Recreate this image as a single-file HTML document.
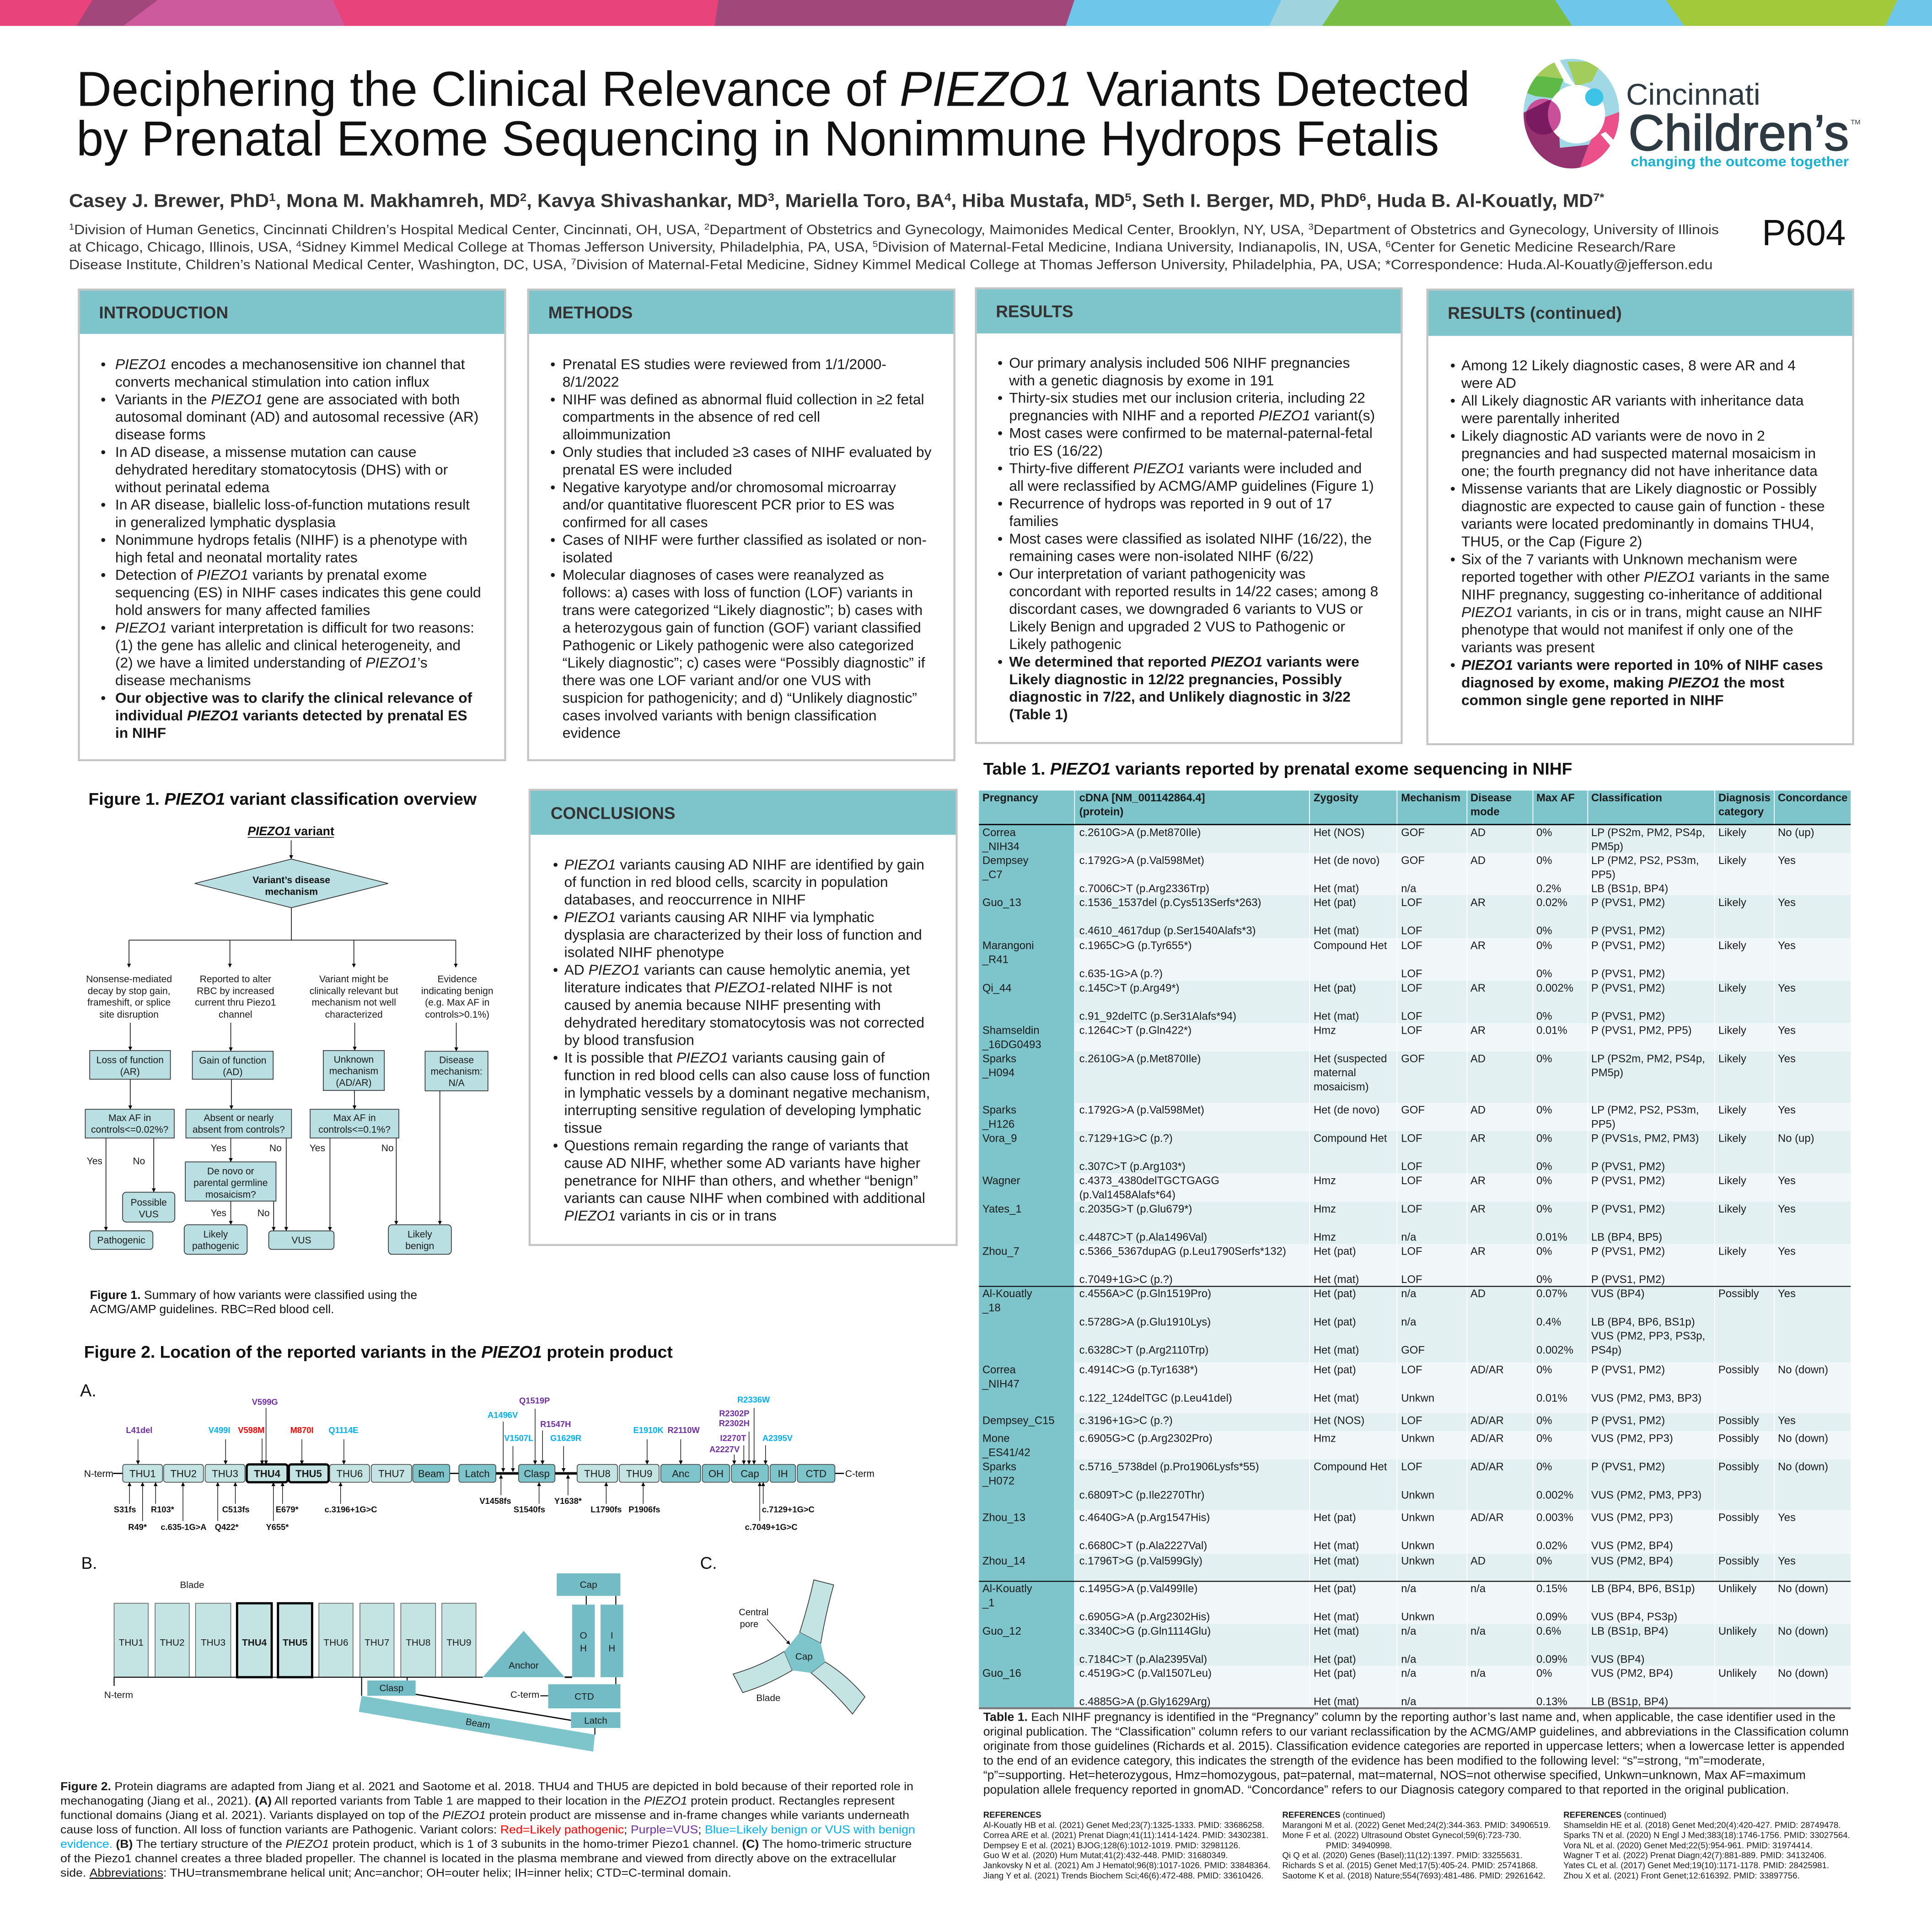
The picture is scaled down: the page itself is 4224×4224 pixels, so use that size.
<!DOCTYPE html>
<html><head><meta charset="utf-8">
<style>
html,body{margin:0;padding:0;background:#fff;}
svg{display:block}
text{font-family:"Liberation Sans",Arial,sans-serif;}
.t{font-size:11.8px;fill:#1a1a1a}
.h{font-size:13.7px;font-weight:bold;fill:#333}
.i{font-style:italic}
.b{font-weight:bold}
.tb{font-size:8.86px;fill:#1a1a1a}
.th{font-size:8.86px;fill:#1a1a1a;font-weight:bold}
.f1{font-size:7.8px;fill:#1a1a1a;text-anchor:middle}
.f1l{font-size:7.8px;fill:#1a1a1a}
.lab{font-size:6.8px;font-weight:bold;text-anchor:middle}
.dom{font-size:8.2px;fill:#1a1a1a;text-anchor:middle}
.bl{font-size:7.7px;fill:#1a1a1a;text-anchor:middle}
.cap{font-size:9.4px;fill:#1a1a1a}
.tcap{font-size:9.6px;fill:#1a1a1a}
.ref{font-size:6.9px;fill:#1a1a1a}
.R{fill:#ff0000}.P{fill:#7030a0}.B{fill:#00b0f0}
</style></head><body>
<svg width="4224" height="4224" viewBox="0 0 1568 1568">
<defs>
<marker id="ah" viewBox="0 0 6 6" refX="5.5" refY="3" markerWidth="3.2" markerHeight="3.2" markerUnits="userSpaceOnUse" orient="auto"><path d="M0,0 L6,3 L0,6 z" fill="#000"/></marker>
<clipPath id="ring"><path clip-rule="evenodd" d="M1236.5,92.2 a38.8,44.5 0 1,0 77.6,0 a38.8,44.5 0 1,0 -77.6,0 Z M1256.3,92.7 a23.2,23.7 0 1,0 46.4,0 a23.2,23.7 0 1,0 -46.4,0 Z"/></clipPath>
<clipPath id="ell"><ellipse cx="1252.5" cy="94.7" rx="14.2" ry="14.6"/></clipPath>
</defs>
<rect x="0" y="0" width="1568" height="1568" fill="#fff"/>

<!-- top band -->
<polygon points="0,0 80,0 66,21 0,21" fill="#e9437b"/>
<polygon points="75,0 130,0 104,21 62,21" fill="#a2477b"/>
<polygon points="128,0 272,0 282,21 100,21" fill="#cd5a9c"/>
<polygon points="270,0 584,0 581,21 280,21" fill="#e9437b"/>
<polygon points="583,0 873,0 866,21 580,21" fill="#a0487a"/>
<polygon points="872,0 1041,0 1031,21 865,21" fill="#6ec6ea"/>
<polygon points="1040,0 1088,0 1074,21 1030,21" fill="#9fd4df"/>
<polygon points="1087,0 1263,0 1277,21 1073,21" fill="#79bd43"/>
<polygon points="1262,0 1353,0 1368,21 1276,21" fill="#6ec6ea"/>
<polygon points="1352,0 1541,0 1531,21 1367,21" fill="#a2c93a"/>
<polygon points="1540,0 1568,0 1568,21 1530,21" fill="#6ec6ea"/>

<!-- title -->
<text x="62" y="86" font-size="40" textLength="1131" lengthAdjust="spacingAndGlyphs" fill="#111">Deciphering the Clinical Relevance of <tspan class="i">PIEZO1</tspan> Variants Detected</text>
<text x="62" y="126.2" font-size="40" textLength="1106" lengthAdjust="spacingAndGlyphs" fill="#111">by Prenatal Exome Sequencing in Nonimmune Hydrops Fetalis</text>

<!-- logo -->
<g clip-path="url(#ring)">
<rect x="1230" y="40" width="90" height="105" fill="#a0d9e5"/>
<polygon points="1230,40 1262,40 1269,64 1252,62 1230,62" fill="#a3cd5b"/>
<polygon points="1230,62 1252,62 1269,64 1263,80 1246,78 1230,72" fill="#5fb946"/>
<polygon points="1272,50 1300,50 1292,66 1279,70" fill="#a3cd5b"/>
<polygon points="1228,93 1236.4,91.5 1256.2,81.7 1264,80 1266,120 1289.4,117.5 1280,142 1228,142" fill="#93326f"/>
<polygon points="1289.4,117.5 1280,142 1322,142 1322,88 1300,96" fill="#ec508a"/>
</g>
<ellipse cx="1252.5" cy="94.7" rx="14.2" ry="14.6" fill="#c94f9b"/>
<g clip-path="url(#ring)"><g clip-path="url(#ell)"><polygon points="1228,93 1236.4,91.5 1256.2,81.7 1264,80 1266,120 1289.4,117.5 1280,142 1228,142" fill="#7a1a60"/></g></g>
<ellipse cx="1293.9" cy="78.9" rx="7.4" ry="7.2" fill="#3cc3e6"/>
<polygon points="1258,44 1263,44 1276,66 1280,71 1270,67" fill="#fff"/>
<polygon points="1299,109 1303,107 1316,120 1311,123" fill="#fff"/>
<text x="1319.7" y="85.1" font-size="24.5" fill="#2e3a42" textLength="109" lengthAdjust="spacingAndGlyphs">Cincinnati</text>
<text x="1321.6" y="121.9" font-size="41" fill="#2e3a42" stroke="#2e3a42" stroke-width="0.7" textLength="179" lengthAdjust="spacingAndGlyphs">Children’s</text>
<text x="1502" y="101" font-size="5.5" fill="#2e3a42">TM</text>
<text x="1323.5" y="135" font-size="11.5" font-weight="bold" fill="#1ab0d0" textLength="177" lengthAdjust="spacingAndGlyphs">changing the outcome together</text>

<!-- authors -->
<text x="56" y="168" font-size="15" font-weight="bold" fill="#333" textLength="1246" lengthAdjust="spacingAndGlyphs">Casey J. Brewer, PhD<tspan font-size="9" baseline-shift="super">1</tspan>, Mona M. Makhamreh, MD<tspan font-size="9" baseline-shift="super">2</tspan>, Kavya Shivashankar, MD<tspan font-size="9" baseline-shift="super">3</tspan>, Mariella Toro, BA<tspan font-size="9" baseline-shift="super">4</tspan>, Hiba Mustafa, MD<tspan font-size="9" baseline-shift="super">5</tspan>, Seth I. Berger, MD, PhD<tspan font-size="9" baseline-shift="super">6</tspan>, Huda B. Al-Kouatly, MD<tspan font-size="9" baseline-shift="super">7*</tspan></text>
<text x="56" y="190" font-size="11" fill="#333" textLength="1339" lengthAdjust="spacingAndGlyphs"><tspan font-size="7" baseline-shift="super">1</tspan>Division of Human Genetics, Cincinnati Children’s Hospital Medical Center, Cincinnati, OH, USA, <tspan font-size="7" baseline-shift="super">2</tspan>Department of Obstetrics and Gynecology, Maimonides Medical Center, Brooklyn, NY, USA, <tspan font-size="7" baseline-shift="super">3</tspan>Department of Obstetrics and Gynecology, University of Illinois</text>
<text x="56" y="204.2" font-size="11" fill="#333" textLength="1304" lengthAdjust="spacingAndGlyphs">at Chicago, Chicago, Illinois, USA, <tspan font-size="7" baseline-shift="super">4</tspan>Sidney Kimmel Medical College at Thomas Jefferson University, Philadelphia, PA, USA, <tspan font-size="7" baseline-shift="super">5</tspan>Division of Maternal-Fetal Medicine, Indiana University, Indianapolis, IN, USA, <tspan font-size="7" baseline-shift="super">6</tspan>Center for Genetic Medicine Research/Rare</text>
<text x="56" y="218.4" font-size="11" fill="#333" textLength="1334" lengthAdjust="spacingAndGlyphs">Disease Institute, Children’s National Medical Center, Washington, DC, USA, <tspan font-size="7" baseline-shift="super">7</tspan>Division of Maternal-Fetal Medicine, Sidney Kimmel Medical College at Thomas Jefferson University, Philadelphia, PA, USA; *Correspondence: Huda.Al-Kouatly@jefferson.edu</text>
<text x="1430" y="199" font-size="29.7" fill="#111" textLength="68" lengthAdjust="spacingAndGlyphs">P604</text>

<!-- INTRODUCTION -->
<rect x="64" y="235" width="346" height="382" fill="#fff" stroke="#c4c4c4" stroke-width="1.6"/>
<rect x="64.8" y="235.8" width="344.4" height="35.2" fill="#7ec4cb"/>
<text class="h" x="80.3" y="258.4">INTRODUCTION</text>
<g class="t">
<text x="81.7" y="299.6">•</text><text x="81.7" y="328.1">•</text><text x="81.7" y="370.85">•</text><text x="81.7" y="413.6">•</text><text x="81.7" y="442.1">•</text><text x="81.7" y="470.6">•</text><text x="81.7" y="513.35">•</text><text x="81.7" y="570.35">•</text>
<text x="93.5" y="299.6"><tspan class="i">PIEZO1</tspan> encodes a mechanosensitive ion channel that</text>
<text x="93.5" y="313.85">converts mechanical stimulation into cation influx</text>
<text x="93.5" y="328.1">Variants in the <tspan class="i">PIEZO1</tspan> gene are associated with both</text>
<text x="93.5" y="342.35">autosomal dominant (AD) and autosomal recessive (AR)</text>
<text x="93.5" y="356.6">disease forms</text>
<text x="93.5" y="370.85">In AD disease, a missense mutation can cause</text>
<text x="93.5" y="385.1">dehydrated hereditary stomatocytosis (DHS) with or</text>
<text x="93.5" y="399.35">without perinatal edema</text>
<text x="93.5" y="413.6">In AR disease, biallelic loss-of-function mutations result</text>
<text x="93.5" y="427.85">in generalized lymphatic dysplasia</text>
<text x="93.5" y="442.1">Nonimmune hydrops fetalis (NIHF) is a phenotype with</text>
<text x="93.5" y="456.35">high fetal and neonatal mortality rates</text>
<text x="93.5" y="470.6">Detection of <tspan class="i">PIEZO1</tspan> variants by prenatal exome</text>
<text x="93.5" y="484.85">sequencing (ES) in NIHF cases indicates this gene could</text>
<text x="93.5" y="499.1">hold answers for many affected families</text>
<text x="93.5" y="513.35"><tspan class="i">PIEZO1</tspan> variant interpretation is difficult for two reasons:</text>
<text x="93.5" y="527.6">(1) the gene has allelic and clinical heterogeneity, and</text>
<text x="93.5" y="541.85">(2) we have a limited understanding of <tspan class="i">PIEZO1</tspan>’s</text>
<text x="93.5" y="556.1">disease mechanisms</text>
<text x="93.5" y="570.35" class="b">Our objective was to clarify the clinical relevance of</text>
<text x="93.5" y="584.6" class="b">individual <tspan class="i">PIEZO1</tspan> variants detected by prenatal ES</text>
<text x="93.5" y="598.85" class="b">in NIHF</text>
</g>

<!-- METHODS -->
<rect x="428.6" y="235" width="346" height="382" fill="#fff" stroke="#c4c4c4" stroke-width="1.6"/>
<rect x="429.4" y="235.8" width="344.4" height="35.2" fill="#7ec4cb"/>
<text class="h" x="445" y="258.4">METHODS</text>
<g class="t">
<text x="446.6" y="299.6">•</text><text x="446.6" y="328.1">•</text><text x="446.6" y="370.85">•</text><text x="446.6" y="399.35">•</text><text x="446.6" y="442.1">•</text><text x="446.6" y="470.6">•</text>
<text x="456.5" y="299.6">Prenatal ES studies were reviewed from 1/1/2000-</text>
<text x="456.5" y="313.85">8/1/2022</text>
<text x="456.5" y="328.1">NIHF was defined as abnormal fluid collection in ≥2 fetal</text>
<text x="456.5" y="342.35">compartments in the absence of red cell</text>
<text x="456.5" y="356.6">alloimmunization</text>
<text x="456.5" y="370.85">Only studies that included ≥3 cases of NIHF evaluated by</text>
<text x="456.5" y="385.1">prenatal ES were included</text>
<text x="456.5" y="399.35">Negative karyotype and/or chromosomal microarray</text>
<text x="456.5" y="413.6">and/or quantitative fluorescent PCR prior to ES was</text>
<text x="456.5" y="427.85">confirmed for all cases</text>
<text x="456.5" y="442.1">Cases of NIHF were further classified as isolated or non-</text>
<text x="456.5" y="456.35">isolated</text>
<text x="456.5" y="470.6">Molecular diagnoses of cases were reanalyzed as</text>
<text x="456.5" y="484.85">follows: a) cases with loss of function (LOF) variants in</text>
<text x="456.5" y="499.1">trans were categorized “Likely diagnostic”; b) cases with</text>
<text x="456.5" y="513.35">a heterozygous gain of function (GOF) variant classified</text>
<text x="456.5" y="527.6">Pathogenic or Likely pathogenic were also categorized</text>
<text x="456.5" y="541.85">“Likely diagnostic”; c) cases were “Possibly diagnostic” if</text>
<text x="456.5" y="556.1">there was one LOF variant and/or one VUS with</text>
<text x="456.5" y="570.35">suspicion for pathogenicity; and d) “Unlikely diagnostic”</text>
<text x="456.5" y="584.6">cases involved variants with benign classification</text>
<text x="456.5" y="598.85">evidence</text>
</g>

<!-- RESULTS -->
<rect x="792" y="234" width="345.6" height="369" fill="#fff" stroke="#c4c4c4" stroke-width="1.6"/>
<rect x="792.8" y="234.8" width="344" height="35.8" fill="#7ec4cb"/>
<text class="h" x="808.2" y="257.5">RESULTS</text>
<g class="t">
<text x="809.6" y="298.4">•</text><text x="809.6" y="326.94">•</text><text x="809.6" y="355.48">•</text><text x="809.6" y="384.02">•</text><text x="809.6" y="412.56">•</text><text x="809.6" y="441.1">•</text><text x="809.6" y="469.64">•</text><text x="809.6" y="540.99">•</text>
<text x="819" y="298.4">Our primary analysis included 506 NIHF pregnancies</text>
<text x="819" y="312.67">with a genetic diagnosis by exome in 191</text>
<text x="819" y="326.94">Thirty-six studies met our inclusion criteria, including 22</text>
<text x="819" y="341.21">pregnancies with NIHF and a reported <tspan class="i">PIEZO1</tspan> variant(s)</text>
<text x="819" y="355.48">Most cases were confirmed to be maternal-paternal-fetal</text>
<text x="819" y="369.75">trio ES (16/22)</text>
<text x="819" y="384.02">Thirty-five different <tspan class="i">PIEZO1</tspan> variants were included and</text>
<text x="819" y="398.29">all were reclassified by ACMG/AMP guidelines (Figure 1)</text>
<text x="819" y="412.56">Recurrence of hydrops was reported in 9 out of 17</text>
<text x="819" y="426.83">families</text>
<text x="819" y="441.1">Most cases were classified as isolated NIHF (16/22), the</text>
<text x="819" y="455.37">remaining cases were non-isolated NIHF (6/22)</text>
<text x="819" y="469.64">Our interpretation of variant pathogenicity was</text>
<text x="819" y="483.91">concordant with reported results in 14/22 cases; among 8</text>
<text x="819" y="498.18">discordant cases, we downgraded 6 variants to VUS or</text>
<text x="819" y="512.45">Likely Benign and upgraded 2 VUS to Pathogenic or</text>
<text x="819" y="526.72">Likely pathogenic</text>
<text x="819" y="540.99" class="b">We determined that reported <tspan class="i">PIEZO1</tspan> variants were</text>
<text x="819" y="555.26" class="b">Likely diagnostic in 12/22 pregnancies, Possibly</text>
<text x="819" y="569.53" class="b">diagnostic in 7/22, and Unlikely diagnostic in 3/22</text>
<text x="819" y="583.8" class="b">(Table 1)</text>
</g>

<!-- RESULTS continued -->
<rect x="1158.4" y="235" width="345.6" height="369" fill="#fff" stroke="#c4c4c4" stroke-width="1.6"/>
<rect x="1159.2" y="235.8" width="344" height="36.8" fill="#7ec4cb"/>
<text class="h" x="1175" y="258.8">RESULTS (continued)</text>
<g class="t">
<text x="1177" y="300.5">•</text><text x="1177" y="329.1">•</text><text x="1177" y="357.7">•</text><text x="1177" y="400.6">•</text><text x="1177" y="457.8">•</text><text x="1177" y="543.6">•</text>
<text x="1186" y="300.5">Among 12 Likely diagnostic cases, 8 were AR and 4</text>
<text x="1186" y="314.8">were AD</text>
<text x="1186" y="329.1">All Likely diagnostic AR variants with inheritance data</text>
<text x="1186" y="343.4">were parentally inherited</text>
<text x="1186" y="357.7">Likely diagnostic AD variants were de novo in 2</text>
<text x="1186" y="372">pregnancies and had suspected maternal mosaicism in</text>
<text x="1186" y="386.3">one; the fourth pregnancy did not have inheritance data</text>
<text x="1186" y="400.6">Missense variants that are Likely diagnostic or Possibly</text>
<text x="1186" y="414.9">diagnostic are expected to cause gain of function - these</text>
<text x="1186" y="429.2">variants were located predominantly in domains THU4,</text>
<text x="1186" y="443.5">THU5, or the Cap (Figure 2)</text>
<text x="1186" y="457.8">Six of the 7 variants with Unknown mechanism were</text>
<text x="1186" y="472.1">reported together with other <tspan class="i">PIEZO1</tspan> variants in the same</text>
<text x="1186" y="486.4">NIHF pregnancy, suggesting co-inheritance of additional</text>
<text x="1186" y="500.7"><tspan class="i">PIEZO1</tspan> variants, in cis or in trans, might cause an NIHF</text>
<text x="1186" y="515">phenotype that would not manifest if only one of the</text>
<text x="1186" y="529.3">variants was present</text>
<text x="1186" y="543.6" class="b"><tspan class="i">PIEZO1</tspan> variants were reported in 10% of NIHF cases</text>
<text x="1186" y="557.9" class="b">diagnosed by exome, making <tspan class="i">PIEZO1</tspan> the most</text>
<text x="1186" y="572.2" class="b">common single gene reported in NIHF</text>
</g>

<!-- CONCLUSIONS -->
<rect x="429.8" y="641" width="346.6" height="369.4" fill="#fff" stroke="#c4c4c4" stroke-width="1.6"/>
<rect x="430.6" y="641.8" width="345" height="35.7" fill="#7ec4cb"/>
<text class="h" x="446.9" y="664.6">CONCLUSIONS</text>
<g class="t">
<text x="448.8" y="705.6">•</text><text x="448.8" y="748.35">•</text><text x="448.8" y="791.1">•</text><text x="448.8" y="862.35">•</text><text x="448.8" y="933.6">•</text>
<text x="457.9" y="705.6"><tspan class="i">PIEZO1</tspan> variants causing AD NIHF are identified by gain</text>
<text x="457.9" y="719.85">of function in red blood cells, scarcity in population</text>
<text x="457.9" y="734.1">databases, and reoccurrence in NIHF</text>
<text x="457.9" y="748.35"><tspan class="i">PIEZO1</tspan> variants causing AR NIHF via lymphatic</text>
<text x="457.9" y="762.6">dysplasia are characterized by their loss of function and</text>
<text x="457.9" y="776.85">isolated NIHF phenotype</text>
<text x="457.9" y="791.1">AD <tspan class="i">PIEZO1</tspan> variants can cause hemolytic anemia, yet</text>
<text x="457.9" y="805.35">literature indicates that <tspan class="i">PIEZO1</tspan>-related NIHF is not</text>
<text x="457.9" y="819.6">caused by anemia because NIHF presenting with</text>
<text x="457.9" y="833.85">dehydrated hereditary stomatocytosis was not corrected</text>
<text x="457.9" y="848.1">by blood transfusion</text>
<text x="457.9" y="862.35">It is possible that <tspan class="i">PIEZO1</tspan> variants causing gain of</text>
<text x="457.9" y="876.6">function in red blood cells can also cause loss of function</text>
<text x="457.9" y="890.85">in lymphatic vessels by a dominant negative mechanism,</text>
<text x="457.9" y="905.1">interrupting sensitive regulation of developing lymphatic</text>
<text x="457.9" y="919.35">tissue</text>
<text x="457.9" y="933.6">Questions remain regarding the range of variants that</text>
<text x="457.9" y="947.85">cause AD NIHF, whether some AD variants have higher</text>
<text x="457.9" y="962.1">penetrance for NIHF than others, and whether “benign”</text>
<text x="457.9" y="976.35">variants can cause NIHF when combined with additional</text>
<text x="457.9" y="990.6"><tspan class="i">PIEZO1</tspan> variants in cis or in trans</text>
</g>

<!-- FIGURE 1 -->
<text x="71.8" y="653.2" font-size="13.9" font-weight="bold" fill="#111" textLength="315" lengthAdjust="spacingAndGlyphs">Figure 1. <tspan class="i">PIEZO1</tspan> variant classification overview</text>
<text x="236.1" y="677.9" font-size="9.9" font-weight="bold" text-anchor="middle" fill="#111"><tspan class="i">PIEZO1</tspan> variant</text>
<line x1="201" y1="679.6" x2="271" y2="679.6" stroke="#111" stroke-width="0.6"/>
<g stroke="#111" stroke-width="0.6" fill="none">
<line x1="236.3" y1="682" x2="236.3" y2="697" marker-end="url(#ah)"/>
<line x1="236.5" y1="736.7" x2="236.5" y2="763"/>
<line x1="104.7" y1="763" x2="369.9" y2="763"/>
<line x1="104.7" y1="763" x2="104.7" y2="785" marker-end="url(#ah)"/>
<line x1="186.6" y1="763" x2="186.6" y2="785" marker-end="url(#ah)"/>
<line x1="287.2" y1="763" x2="287.2" y2="785" marker-end="url(#ah)"/>
<line x1="369.9" y1="763" x2="369.9" y2="785" marker-end="url(#ah)"/>
<line x1="105.7" y1="830" x2="105.7" y2="852.4" marker-end="url(#ah)"/>
<line x1="187.3" y1="830" x2="187.3" y2="853" marker-end="url(#ah)"/>
<line x1="287.9" y1="830" x2="287.9" y2="852.4" marker-end="url(#ah)"/>
<line x1="370.3" y1="830" x2="370.3" y2="853" marker-end="url(#ah)"/>
<line x1="105.7" y1="875.9" x2="105.7" y2="900.1" marker-end="url(#ah)"/>
<line x1="187.8" y1="875.9" x2="187.8" y2="900.1" marker-end="url(#ah)"/>
<line x1="287.7" y1="885" x2="287.7" y2="900.1" marker-end="url(#ah)"/>
<line x1="357" y1="885.3" x2="357" y2="993.8" marker-end="url(#ah)"/>
<line x1="86" y1="923.6" x2="86" y2="998.7" marker-end="url(#ah)"/>
<line x1="124.8" y1="923.6" x2="124.8" y2="967.4" marker-end="url(#ah)"/>
<line x1="187.3" y1="923.6" x2="187.3" y2="942.8" marker-end="url(#ah)"/>
<line x1="232.3" y1="923.6" x2="232.3" y2="998.8" marker-end="url(#ah)"/>
<line x1="187.3" y1="974.8" x2="187.3" y2="993.8" marker-end="url(#ah)"/>
<line x1="222.1" y1="974.8" x2="222.1" y2="998.8" marker-end="url(#ah)"/>
<line x1="267.8" y1="923.6" x2="267.8" y2="998.8" marker-end="url(#ah)"/>
<line x1="321.6" y1="923.6" x2="321.6" y2="993.8" marker-end="url(#ah)"/>
</g>
<g fill="#b9dfe3" stroke="#2b2b2b" stroke-width="0.6">
<polygon points="158,717 236.5,697.2 315,717 236.5,736.7"/>
<rect x="72.8" y="852.6" width="65.5" height="23.3"/>
<rect x="156.1" y="853.2" width="65.6" height="22.7"/>
<rect x="262.4" y="852.6" width="49.5" height="32.4"/>
<rect x="345" y="853.2" width="51" height="32.1"/>
<rect x="69.2" y="900.3" width="72.2" height="23.3"/>
<rect x="150.9" y="900.3" width="85.7" height="23.3"/>
<rect x="251.7" y="900.3" width="72" height="23.3"/>
<rect x="150.4" y="943" width="73.6" height="31.8"/>
<rect x="99.5" y="967.6" width="42.4" height="24.2" rx="3"/>
<rect x="72.8" y="998.9" width="51.3" height="15.1" rx="2.5"/>
<rect x="149.5" y="994" width="51.1" height="24" rx="3"/>
<rect x="218.1" y="999" width="53" height="15" rx="2.5"/>
<rect x="315.2" y="994" width="51.1" height="24" rx="3"/>
</g>
<text x="236.5" y="716.8" font-size="7.8" font-weight="bold" text-anchor="middle" fill="#111">Variant’s disease</text>
<text x="236.5" y="726.2" font-size="7.8" font-weight="bold" text-anchor="middle" fill="#111">mechanism</text>
<g class="f1">
<text x="104.7" y="797.2">Nonsense-mediated</text><text x="104.7" y="806.9">decay by stop gain,</text><text x="104.7" y="816.2">frameshift, or splice</text><text x="104.7" y="825.9">site disruption</text>
<text x="191.1" y="797.2">Reported to alter</text><text x="191.1" y="806.9">RBC by increased</text><text x="191.1" y="816.2">current thru Piezo1</text><text x="191.1" y="825.9">channel</text>
<text x="287.2" y="797.2">Variant might be</text><text x="287.2" y="806.9">clinically relevant but</text><text x="287.2" y="816.2">mechanism not well</text><text x="287.2" y="825.9">characterized</text>
<text x="371.1" y="797.2">Evidence</text><text x="371.1" y="806.9">indicating benign</text><text x="371.1" y="816.2">(e.g. Max AF in</text><text x="371.1" y="825.9">controls&gt;0.1%)</text>
<text x="105.5" y="862.9">Loss of function</text><text x="105.5" y="872.3">(AR)</text>
<text x="188.9" y="863.2">Gain of function</text><text x="188.9" y="872.6">(AD)</text>
<text x="287.1" y="862.5">Unknown</text><text x="287.1" y="871.8">mechanism</text><text x="287.1" y="881.3">(AD/AR)</text>
<text x="370.5" y="862.8">Disease</text><text x="370.5" y="872.1">mechanism:</text><text x="370.5" y="881.5">N/A</text>
<text x="105.3" y="909.9">Max AF in</text><text x="105.3" y="919.3">controls&lt;=0.02%?</text>
<text x="193.7" y="909.9">Absent or nearly</text><text x="193.7" y="919.3">absent from controls?</text>
<text x="287.7" y="909.9">Max AF in</text><text x="287.7" y="919.3">controls&lt;=0.1%?</text>
<text x="187.2" y="953">De novo or</text><text x="187.2" y="962.6">parental germline</text><text x="187.2" y="972.1">mosaicism?</text>
<text x="120.7" y="978.5">Possible</text><text x="120.7" y="988">VUS</text>
<text x="98.4" y="1009.2">Pathogenic</text>
<text x="175" y="1004.3">Likely</text><text x="175" y="1013.8">pathogenic</text>
<text x="244.6" y="1009.2">VUS</text>
<text x="340.7" y="1004.3">Likely</text><text x="340.7" y="1013.8">benign</text>
</g>
<g class="f1l">
<text x="70.4" y="945">Yes</text><text x="107.8" y="945">No</text>
<text x="171" y="934.4">Yes</text><text x="218.6" y="934.4">No</text>
<text x="171" y="987">Yes</text><text x="208.9" y="987">No</text>
<text x="251.2" y="934.4">Yes</text><text x="309.5" y="934.4">No</text>
</g>
<text x="73" y="1054.3" font-size="9.6" fill="#111" textLength="265.6" lengthAdjust="spacingAndGlyphs"><tspan class="b">Figure 1.</tspan> Summary of how variants were classified using the</text>
<text x="73" y="1065.7" font-size="9.6" fill="#111" textLength="198.2" lengthAdjust="spacingAndGlyphs">ACMG/AMP guidelines. RBC=Red blood cell.</text>

<!-- FIGURE 2 -->
<text x="68.2" y="1101.9" font-size="13.9" font-weight="bold" fill="#111" textLength="477.8" lengthAdjust="spacingAndGlyphs">Figure 2. Location of the reported variants in the <tspan class="i">PIEZO1</tspan> protein product</text>
<text x="65" y="1133.4" font-size="14" fill="#111">A.</text>
<g stroke="#000">
<line x1="91.7" y1="1195.8" x2="99.6" y2="1195.8" stroke-width="1"/>
<line x1="365" y1="1195.8" x2="372.4" y2="1195.8" stroke-width="1"/>
<line x1="402.4" y1="1195.8" x2="420.9" y2="1195.8" stroke-width="2"/>
<line x1="450.4" y1="1195.8" x2="468.4" y2="1195.8" stroke-width="2"/>
<line x1="677.6" y1="1195.8" x2="685" y2="1195.8" stroke-width="1"/>
</g>
<g stroke="#444" stroke-width="0.6">
<rect x="99.6" y="1188.5" width="32.3" height="14.5" rx="2" fill="#c4e3e3"/>
<rect x="132.8" y="1188.5" width="32.3" height="14.5" rx="2" fill="#c4e3e3"/>
<rect x="166.5" y="1188.5" width="32.3" height="14.5" rx="2" fill="#c4e3e3"/>
<rect x="200.2" y="1188.5" width="33.2" height="14.5" rx="2" fill="#c4e3e3" stroke="#000" stroke-width="1.8"/>
<rect x="234.4" y="1188.5" width="32.3" height="14.5" rx="2" fill="#c4e3e3" stroke="#000" stroke-width="1.8"/>
<rect x="267.6" y="1188.5" width="32.3" height="14.5" rx="2" fill="#c4e3e3"/>
<rect x="301.3" y="1188.5" width="32.8" height="14.5" rx="2" fill="#c4e3e3"/>
<rect x="335" y="1188.5" width="30" height="14.5" rx="2" fill="#7ec4cb"/>
<rect x="372.4" y="1188.5" width="30" height="14.5" rx="2" fill="#7ec4cb"/>
<rect x="420.9" y="1188.5" width="29.5" height="14.5" rx="2" fill="#7ec4cb"/>
<rect x="468.4" y="1188.5" width="32.8" height="14.5" rx="2" fill="#c4e3e3"/>
<rect x="502.6" y="1188.5" width="32.3" height="14.5" rx="2" fill="#c4e3e3"/>
<rect x="536.3" y="1188.5" width="32.3" height="14.5" rx="2" fill="#7ec4cb"/>
<rect x="570" y="1188.5" width="22.2" height="14.5" rx="2" fill="#7ec4cb"/>
<rect x="593.6" y="1188.5" width="30" height="14.5" rx="2" fill="#7ec4cb"/>
<rect x="625" y="1188.5" width="20.7" height="14.5" rx="2" fill="#7ec4cb"/>
<rect x="647.1" y="1188.5" width="30.5" height="14.5" rx="2" fill="#7ec4cb"/>
</g>
<g class="dom">
<text x="115.75" y="1198.8">THU1</text><text x="148.95" y="1198.8">THU2</text><text x="182.65" y="1198.8">THU3</text>
<text x="216.8" y="1198.8" font-weight="bold">THU4</text><text x="250.55" y="1198.8" font-weight="bold">THU5</text>
<text x="283.75" y="1198.8">THU6</text><text x="317.7" y="1198.8">THU7</text><text x="350" y="1198.8">Beam</text>
<text x="387.4" y="1198.8">Latch</text><text x="435.65" y="1198.8">Clasp</text><text x="484.8" y="1198.8">THU8</text>
<text x="518.75" y="1198.8">THU9</text><text x="552.45" y="1198.8">Anc</text><text x="581.1" y="1198.8">OH</text>
<text x="608.6" y="1198.8">Cap</text><text x="635.35" y="1198.8">IH</text><text x="662.35" y="1198.8">CTD</text>
</g>
<text x="68.2" y="1198.6" font-size="7.8" fill="#111">N-term</text>
<text x="685.9" y="1198.6" font-size="7.8" fill="#111">C-term</text>
<g stroke="#000" stroke-width="0.5">
<line x1="112" y1="1168.1" x2="112" y2="1188.3" marker-end="url(#ah)"/>
<line x1="183.1" y1="1168.1" x2="183.1" y2="1188.3" marker-end="url(#ah)"/>
<line x1="212.7" y1="1167.5" x2="212.7" y2="1188.3" marker-end="url(#ah)"/>
<line x1="215.9" y1="1142.7" x2="215.9" y2="1188.3" marker-end="url(#ah)"/>
<line x1="245" y1="1168.1" x2="245" y2="1188.3" marker-end="url(#ah)"/>
<line x1="279.1" y1="1168.1" x2="279.1" y2="1188.3" marker-end="url(#ah)"/>
<line x1="408.4" y1="1153.8" x2="408.4" y2="1194.5" marker-end="url(#ah)"/>
<line x1="416.3" y1="1173.6" x2="416.3" y2="1194.5" marker-end="url(#ah)"/>
<line x1="434.3" y1="1143.3" x2="434.3" y2="1188.3" marker-end="url(#ah)"/>
<line x1="440.3" y1="1160.9" x2="440.3" y2="1188.3" marker-end="url(#ah)"/>
<line x1="457.4" y1="1173.6" x2="457.4" y2="1194.5" marker-end="url(#ah)"/>
<line x1="525.2" y1="1168.1" x2="525.2" y2="1188.3" marker-end="url(#ah)"/>
<line x1="552.5" y1="1168.1" x2="552.5" y2="1188.3" marker-end="url(#ah)"/>
<line x1="612" y1="1142.7" x2="612" y2="1188.3" marker-end="url(#ah)"/>
<line x1="607.9" y1="1161.9" x2="607.9" y2="1188.3" marker-end="url(#ah)"/>
<line x1="603.7" y1="1173" x2="603.7" y2="1188.3" marker-end="url(#ah)"/>
<line x1="621.3" y1="1173" x2="621.3" y2="1188.3" marker-end="url(#ah)"/>
<line x1="595.9" y1="1180.5" x2="595.9" y2="1188.3" marker-end="url(#ah)"/>
<line x1="105.1" y1="1220.5" x2="105.1" y2="1203.2" marker-end="url(#ah)"/>
<line x1="115.7" y1="1234.5" x2="115.7" y2="1203.2" marker-end="url(#ah)"/>
<line x1="126.3" y1="1220.5" x2="126.3" y2="1203.2" marker-end="url(#ah)"/>
<line x1="148.5" y1="1234.5" x2="148.5" y2="1203.2" marker-end="url(#ah)"/>
<line x1="176.7" y1="1234.5" x2="176.7" y2="1203.2" marker-end="url(#ah)"/>
<line x1="191" y1="1220.5" x2="191" y2="1203.2" marker-end="url(#ah)"/>
<line x1="221.9" y1="1234.5" x2="221.9" y2="1203.2" marker-end="url(#ah)"/>
<line x1="229.3" y1="1220.5" x2="229.3" y2="1203.2" marker-end="url(#ah)"/>
<line x1="276.4" y1="1220.5" x2="276.4" y2="1203.2" marker-end="url(#ah)"/>
<line x1="406.6" y1="1213.5" x2="406.6" y2="1197" marker-end="url(#ah)"/>
<line x1="437.5" y1="1220.5" x2="437.5" y2="1203.2" marker-end="url(#ah)"/>
<line x1="461" y1="1213.5" x2="461" y2="1197" marker-end="url(#ah)"/>
<line x1="492" y1="1220.5" x2="492" y2="1203.2" marker-end="url(#ah)"/>
<line x1="522" y1="1220.5" x2="522" y2="1203.2" marker-end="url(#ah)"/>
<line x1="619.4" y1="1220.5" x2="619.4" y2="1203.2" marker-end="url(#ah)"/>
<line x1="616.6" y1="1234.5" x2="616.6" y2="1203.2" marker-end="url(#ah)"/>
</g>
<g class="lab">
<text class="P" x="113" y="1163.1">L41del</text>
<text class="B" x="178" y="1163.1">V499I</text>
<text class="R" x="203.9" y="1163.1">V598M</text>
<text class="P" x="215" y="1140.2">V599G</text>
<text class="R" x="245" y="1163.1">M870I</text>
<text class="B" x="278.7" y="1163.1">Q1114E</text>
<text class="B" x="408" y="1150.7">A1496V</text>
<text class="B" x="421" y="1169.5">V1507L</text>
<text class="P" x="433.8" y="1139">Q1519P</text>
<text class="P" x="450.9" y="1158.2">R1547H</text>
<text class="B" x="459.2" y="1169.5">G1629R</text>
<text class="B" x="526.2" y="1163.1">E1910K</text>
<text class="P" x="554.8" y="1163.1">R2110W</text>
<text class="B" x="611.6" y="1138.4">R2336W</text>
<text class="P" x="595.9" y="1149.5">R2302P</text>
<text class="P" x="595.9" y="1157.5">R2302H</text>
<text class="P" x="595" y="1169.5">I2270T</text>
<text class="B" x="631" y="1169.5">A2395V</text>
<text class="P" x="588" y="1178.6">A2227V</text>
<g fill="#111">
<text x="101.4" y="1227.5">S31fs</text>
<text x="111.6" y="1241.7">R49*</text>
<text x="131.9" y="1227.5">R103*</text>
<text x="149" y="1241.7">c.635-1G&gt;A</text>
<text x="184" y="1241.7">Q422*</text>
<text x="191.4" y="1227.5">C513fs</text>
<text x="225.1" y="1241.7">Y655*</text>
<text x="233" y="1227.5">E679*</text>
<text x="284.7" y="1227.5">c.3196+1G&gt;C</text>
<text x="402" y="1220.6">V1458fs</text>
<text x="429.6" y="1227.5">S1540fs</text>
<text x="461" y="1220.6">Y1638*</text>
<text x="492" y="1227.5">L1790fs</text>
<text x="523" y="1227.5">P1906fs</text>
<text x="639.7" y="1227.5">c.7129+1G&gt;C</text>
<text x="625.9" y="1241.7">c.7049+1G&gt;C</text>
</g>
</g>

<!-- Fig 2 B -->
<text x="65.9" y="1273.3" font-size="13.7" fill="#111">B.</text>
<text x="568.2" y="1273.3" font-size="13.7" fill="#111">C.</text>
<text class="bl" x="155.9" y="1288.8">Blade</text>
<g fill="#c4e3e3" stroke="#666" stroke-width="0.6">
<rect x="92.6" y="1301.2" width="27.7" height="60"/>
<rect x="125.9" y="1301.2" width="27.7" height="60"/>
<rect x="158.7" y="1301.2" width="28.6" height="60"/>
<rect x="192.4" y="1301.2" width="28.1" height="60" stroke="#000" stroke-width="1.8"/>
<rect x="225.6" y="1301.2" width="27.7" height="60" stroke="#000" stroke-width="1.8"/>
<rect x="258.8" y="1301.2" width="27.7" height="60"/>
<rect x="292.1" y="1301.2" width="27.7" height="60"/>
<rect x="325.3" y="1301.2" width="28.2" height="60"/>
<rect x="358.6" y="1301.2" width="27.7" height="60"/>
</g>
<g class="bl">
<text x="106.45" y="1335.6">THU1</text><text x="139.75" y="1335.6">THU2</text><text x="173" y="1335.6">THU3</text>
<text x="206.45" y="1335.6" font-weight="bold">THU4</text><text x="239.45" y="1335.6" font-weight="bold">THU5</text>
<text x="272.65" y="1335.6">THU6</text><text x="305.95" y="1335.6">THU7</text><text x="339.4" y="1335.6">THU8</text><text x="372.45" y="1335.6">THU9</text>
</g>
<g stroke="#000" stroke-width="0.8" fill="none">
<line x1="92.6" y1="1361.2" x2="391.8" y2="1361.2"/>
<line x1="92.6" y1="1361.2" x2="92.6" y2="1368.3"/>
<line x1="458.3" y1="1361.2" x2="464.3" y2="1361.2" stroke-width="1.2"/>
<line x1="475.8" y1="1295.2" x2="475.8" y2="1302.3"/>
<line x1="499.8" y1="1295.2" x2="499.8" y2="1302.3"/>
<line x1="499.8" y1="1361.2" x2="499.8" y2="1366.9"/>
<line x1="438.5" y1="1376.3" x2="444.9" y2="1376.3"/>
<line x1="293.5" y1="1361.2" x2="293.5" y2="1376.3"/>
<line x1="330.4" y1="1361.2" x2="330.4" y2="1363.9"/>
<line x1="337.3" y1="1375.1" x2="463.4" y2="1396.2" stroke-width="1"/>
<line x1="482.8" y1="1402.4" x2="482.8" y2="1407.8"/>
</g>
<polygon points="293.5,1376.3 482.8,1407.8 481.4,1421.6 291.2,1389.3" fill="#7ec4cb"/>
<polygon points="425,1323.6 458.3,1361.2 391.8,1361.2" fill="#74bcc5"/>
<g fill="#74bcc5">
<rect x="464.3" y="1302.3" width="18.4" height="58.9"/>
<rect x="487.4" y="1302.3" width="18.4" height="58.9"/>
<rect x="451.8" y="1276.9" width="51.7" height="18.3"/>
<rect x="444.9" y="1366.9" width="58.6" height="19.6"/>
<rect x="298.1" y="1363.9" width="39.2" height="12.4"/>
<rect x="463.4" y="1389.6" width="40.1" height="12.8"/>
</g>
<g class="bl">
<text x="425" y="1354.1">Anchor</text>
<text x="473.5" y="1329.8">O</text><text x="473.5" y="1340.2">H</text>
<text x="496.6" y="1329.8">I</text><text x="496.6" y="1340.2">H</text>
<text x="477.6" y="1288.7">Cap</text>
<text x="474.2" y="1379.4">CTD</text>
<text x="317.7" y="1372.6">Clasp</text>
<text x="483.5" y="1398.9">Latch</text>
<text x="96.3" y="1378.1">N-term</text>
<text x="426" y="1378">C-term</text>
<text x="0" y="0" transform="translate(387.5,1401.3) rotate(9.5)">Beam</text>
</g>

<!-- Fig 2 C -->
<g fill="#c4e3e3" stroke="#333" stroke-width="0.6">
<path d="M660.5,1282.2 L676.6,1286.3 Q670,1310 666.1,1333.7 L649,1324.8 Q656,1303 660.5,1282.2 Z"/>
<path d="M636.5,1340.3 L643,1355.6 Q622,1368 602.8,1373.7 L595,1358.6 Q618,1352 636.5,1340.3 Z"/>
<path d="M669.7,1348.8 Q688,1360 702,1377.2 L691.9,1391.1 Q676,1372 658.2,1357.7 Z"/>
</g>
<polygon points="649,1324.8 666.1,1333.7 669.7,1348.8 658.2,1357.7 643,1355.6 636.5,1340.3" fill="#7ec4cb"/>
<text class="bl" x="652.5" y="1347">Cap</text>
<text x="599.6" y="1311" font-size="7.5" fill="#111">Central</text>
<text x="600.5" y="1320.5" font-size="7.5" fill="#111">pore</text>
<line x1="622.6" y1="1314.2" x2="641.1" y2="1334.6" stroke="#000" stroke-width="0.5" marker-end="url(#ah)"/>
<text class="bl" x="623.6" y="1380.5">Blade</text>

<!-- Fig 2 caption -->
<g class="cap">
<text x="49" y="1453" textLength="692.3" lengthAdjust="spacingAndGlyphs"><tspan class="b">Figure 2.</tspan> Protein diagrams are adapted from Jiang et al. 2021 and Saotome et al. 2018. THU4 and THU5 are depicted in bold because of their reported role in</text>
<text x="49" y="1464.7" textLength="677" lengthAdjust="spacingAndGlyphs">mechanogating (Jiang et al., 2021). <tspan class="b">(A)</tspan> All reported variants from Table 1 are mapped to their location in the <tspan class="i">PIEZO1</tspan> protein product. Rectangles represent</text>
<text x="49" y="1476.3" textLength="689" lengthAdjust="spacingAndGlyphs">functional domains (Jiang et al. 2021). Variants displayed on top of the <tspan class="i">PIEZO1</tspan> protein product are missense and in-frame changes while variants underneath</text>
<text x="49" y="1488" textLength="693.7" lengthAdjust="spacingAndGlyphs">cause loss of function. All loss of function variants are Pathogenic. Variant colors: <tspan class="R">Red=Likely pathogenic</tspan>; <tspan class="P">Purple=VUS</tspan>; <tspan class="B">Blue=Likely benign or VUS with benign</tspan></text>
<text x="49" y="1499.7" textLength="691" lengthAdjust="spacingAndGlyphs"><tspan class="B">evidence.</tspan> <tspan class="b">(B)</tspan> The tertiary structure of the <tspan class="i">PIEZO1</tspan> protein product, which is 1 of 3 subunits in the homo-trimer Piezo1 channel. <tspan class="b">(C)</tspan> The homo-trimeric structure</text>
<text x="49" y="1511.4" textLength="678.4" lengthAdjust="spacingAndGlyphs">of the Piezo1 channel creates a three bladed propeller. The channel is located in the plasma membrane and viewed from directly above on the extracellular</text>
<text x="49" y="1523.1" textLength="544.5" lengthAdjust="spacingAndGlyphs">side. <tspan text-decoration="underline">Abbreviations</tspan>: THU=transmembrane helical unit; Anc=anchor; OH=outer helix; IH=inner helix; CTD=C-terminal domain.</text>
</g>
<line x1="73" y1="1524.6" x2="123" y2="1524.6" stroke="#111" stroke-width="0.5"/>

<!-- TABLE 1 -->
<text x="798" y="628.6" font-size="13.9" font-weight="bold" fill="#111" textLength="478" lengthAdjust="spacingAndGlyphs">Table 1. <tspan class="i">PIEZO1</tspan> variants reported by prenatal exome sequencing in NIHF</text>
<rect x="794.5" y="641.6" width="707.5" height="27.6" fill="#7ec4cb"/>
<g>
<rect x="794.5" y="669.7" width="707.5" height="22.7" fill="#e2f0f2"/>
<rect x="794.5" y="692.4" width="707.5" height="34.1" fill="#f1f7f8"/>
<rect x="794.5" y="726.5" width="707.5" height="34.9" fill="#e2f0f2"/>
<rect x="794.5" y="761.4" width="707.5" height="34.6" fill="#f1f7f8"/>
<rect x="794.5" y="796" width="707.5" height="34.4" fill="#e2f0f2"/>
<rect x="794.5" y="830.4" width="707.5" height="22.9" fill="#f1f7f8"/>
<rect x="794.5" y="853.3" width="707.5" height="41.7" fill="#e2f0f2"/>
<rect x="794.5" y="895" width="707.5" height="22.9" fill="#f1f7f8"/>
<rect x="794.5" y="917.9" width="707.5" height="34.4" fill="#e2f0f2"/>
<rect x="794.5" y="952.3" width="707.5" height="22.9" fill="#f1f7f8"/>
<rect x="794.5" y="975.2" width="707.5" height="34.4" fill="#e2f0f2"/>
<rect x="794.5" y="1009.6" width="707.5" height="34.4" fill="#f1f7f8"/>
<rect x="794.5" y="1044" width="707.5" height="61.8" fill="#e2f0f2"/>
<rect x="794.5" y="1105.8" width="707.5" height="41.1" fill="#f1f7f8"/>
<rect x="794.5" y="1146.9" width="707.5" height="14.6" fill="#e2f0f2"/>
<rect x="794.5" y="1161.5" width="707.5" height="23" fill="#f1f7f8"/>
<rect x="794.5" y="1184.5" width="707.5" height="41.1" fill="#e2f0f2"/>
<rect x="794.5" y="1225.6" width="707.5" height="35.4" fill="#f1f7f8"/>
<rect x="794.5" y="1261" width="707.5" height="22.4" fill="#e2f0f2"/>
<rect x="794.5" y="1283.4" width="707.5" height="34.5" fill="#f1f7f8"/>
<rect x="794.5" y="1317.9" width="707.5" height="34.2" fill="#e2f0f2"/>
<rect x="794.5" y="1352.1" width="707.5" height="34.1" fill="#f1f7f8"/>
</g>
<rect x="794.5" y="669.7" width="77.6" height="716.5" fill="#7ec4cb"/>
<g stroke="#fff" stroke-width="0.7">
<line x1="872.1" y1="641.6" x2="872.1" y2="1386.2"/>
<line x1="1062.8" y1="641.6" x2="1062.8" y2="1386.2"/>
<line x1="1133.8" y1="641.6" x2="1133.8" y2="1386.2"/>
<line x1="1190.6" y1="641.6" x2="1190.6" y2="1386.2"/>
<line x1="1244.1" y1="641.6" x2="1244.1" y2="1386.2"/>
<line x1="1288.6" y1="641.6" x2="1288.6" y2="1386.2"/>
<line x1="1391.7" y1="641.6" x2="1391.7" y2="1386.2"/>
<line x1="1440" y1="641.6" x2="1440" y2="1386.2"/>
</g>
<line x1="794.5" y1="669.2" x2="1502" y2="669.2" stroke="#000" stroke-width="1"/>
<line x1="794.5" y1="1044" x2="1502" y2="1044" stroke="#000" stroke-width="0.8"/>
<line x1="794.5" y1="1283.4" x2="1502" y2="1283.4" stroke="#000" stroke-width="0.8"/>
<line x1="794.5" y1="1386.4" x2="1502" y2="1386.4" stroke="#7a7a7a" stroke-width="1.6"/>
<g class="th">
<text x="797.3" y="650.4">Pregnancy</text>
<text x="875.9" y="650.4">cDNA [NM_001142864.4]</text><text x="875.9" y="661.6">(protein)</text>
<text x="1066.1" y="650.4">Zygosity</text>
<text x="1137.1" y="650.4">Mechanism</text>
<text x="1193.4" y="650.4">Disease</text><text x="1193.4" y="661.6">mode</text>
<text x="1246.9" y="650.4">Max AF</text>
<text x="1291.4" y="650.4">Classification</text>
<text x="1394.6" y="650.4">Diagnosis</text><text x="1394.6" y="661.6">category</text>
<text x="1442.9" y="650.4">Concordance</text>
</g>
<g class="tb">
<!-- R1 -->
<text x="797.3" y="678.5">Correa</text><text x="797.3" y="689.95">_NIH34</text>
<text x="875.9" y="678.5">c.2610G&gt;A (p.Met870Ile)</text><text x="1066.1" y="678.5">Het (NOS)</text><text x="1137.1" y="678.5">GOF</text><text x="1193.4" y="678.5">AD</text><text x="1246.9" y="678.5">0%</text><text x="1291.4" y="678.5">LP (PS2m, PM2, PS4p,</text><text x="1291.4" y="689.95">PM5p)</text><text x="1394.6" y="678.5">Likely</text><text x="1442.9" y="678.5">No (up)</text>
<!-- R2 -->
<text x="797.3" y="701.2">Dempsey</text><text x="797.3" y="712.65">_C7</text>
<text x="875.9" y="701.2">c.1792G&gt;A (p.Val598Met)</text><text x="875.9" y="724.1">c.7006C&gt;T (p.Arg2336Trp)</text>
<text x="1066.1" y="701.2">Het  (de novo)</text><text x="1066.1" y="724.1">Het (mat)</text>
<text x="1137.1" y="701.2">GOF</text><text x="1137.1" y="724.1">n/a</text><text x="1193.4" y="701.2">AD</text>
<text x="1246.9" y="701.2">0%</text><text x="1246.9" y="724.1">0.2%</text>
<text x="1291.4" y="701.2">LP (PM2, PS2, PS3m,</text><text x="1291.4" y="712.65">PP5)</text><text x="1291.4" y="724.1">LB (BS1p, BP4)</text>
<text x="1394.6" y="701.2">Likely</text><text x="1442.9" y="701.2">Yes</text>
<!-- R3 -->
<text x="797.3" y="735.3">Guo_13</text>
<text x="875.9" y="735.3">c.1536_1537del  (p.Cys513Serfs*263)</text><text x="875.9" y="758.2">c.4610_4617dup (p.Ser1540Alafs*3)</text>
<text x="1066.1" y="735.3">Het (pat)</text><text x="1066.1" y="758.2">Het (mat)</text>
<text x="1137.1" y="735.3">LOF</text><text x="1137.1" y="758.2">LOF</text><text x="1193.4" y="735.3">AR</text>
<text x="1246.9" y="735.3">0.02%</text><text x="1246.9" y="758.2">0%</text>
<text x="1291.4" y="735.3">P (PVS1, PM2)</text><text x="1291.4" y="758.2">P (PVS1, PM2)</text>
<text x="1394.6" y="735.3">Likely</text><text x="1442.9" y="735.3">Yes</text>
<!-- R4 -->
<text x="797.3" y="770.2">Marangoni</text><text x="797.3" y="781.65">_R41</text>
<text x="875.9" y="770.2">c.1965C&gt;G (p.Tyr655*)</text><text x="875.9" y="793.1">c.635-1G&gt;A (p.?)</text>
<text x="1066.1" y="770.2">Compound Het</text>
<text x="1137.1" y="770.2">LOF</text><text x="1137.1" y="793.1">LOF</text><text x="1193.4" y="770.2">AR</text>
<text x="1246.9" y="770.2">0%</text><text x="1246.9" y="793.1">0%</text>
<text x="1291.4" y="770.2">P (PVS1, PM2)</text><text x="1291.4" y="793.1">P (PVS1, PM2)</text>
<text x="1394.6" y="770.2">Likely</text><text x="1442.9" y="770.2">Yes</text>
<!-- R5 -->
<text x="797.3" y="804.8">Qi_44</text>
<text x="875.9" y="804.8">c.145C&gt;T (p.Arg49*)</text><text x="875.9" y="827.7">c.91_92delTC (p.Ser31Alafs*94)</text>
<text x="1066.1" y="804.8">Het (pat)</text><text x="1066.1" y="827.7">Het (mat)</text>
<text x="1137.1" y="804.8">LOF</text><text x="1137.1" y="827.7">LOF</text><text x="1193.4" y="804.8">AR</text>
<text x="1246.9" y="804.8">0.002%</text><text x="1246.9" y="827.7">0%</text>
<text x="1291.4" y="804.8">P (PVS1, PM2)</text><text x="1291.4" y="827.7">P (PVS1, PM2)</text>
<text x="1394.6" y="804.8">Likely</text><text x="1442.9" y="804.8">Yes</text>
<!-- R6 -->
<text x="797.3" y="839.2">Shamseldin</text><text x="797.3" y="850.65">_16DG0493</text>
<text x="875.9" y="839.2">c.1264C&gt;T (p.Gln422*)</text><text x="1066.1" y="839.2">Hmz</text><text x="1137.1" y="839.2">LOF</text><text x="1193.4" y="839.2">AR</text><text x="1246.9" y="839.2">0.01%</text><text x="1291.4" y="839.2">P (PVS1, PM2, PP5)</text><text x="1394.6" y="839.2">Likely</text><text x="1442.9" y="839.2">Yes</text>
<!-- R7 -->
<text x="797.3" y="862.1">Sparks</text><text x="797.3" y="873.55">_H094</text>
<text x="875.9" y="862.1">c.2610G&gt;A (p.Met870Ile)</text>
<text x="1066.1" y="862.1">Het (suspected</text><text x="1066.1" y="873.55">maternal</text><text x="1066.1" y="885">mosaicism)</text>
<text x="1137.1" y="862.1">GOF</text><text x="1193.4" y="862.1">AD</text><text x="1246.9" y="862.1">0%</text>
<text x="1291.4" y="862.1">LP (PS2m, PM2, PS4p,</text><text x="1291.4" y="873.55">PM5p)</text>
<text x="1394.6" y="862.1">Likely</text><text x="1442.9" y="862.1">Yes</text>
<!-- R8 -->
<text x="797.3" y="903.8">Sparks</text><text x="797.3" y="915.25">_H126</text>
<text x="875.9" y="903.8">c.1792G&gt;A (p.Val598Met)</text><text x="1066.1" y="903.8">Het  (de novo)</text><text x="1137.1" y="903.8">GOF</text><text x="1193.4" y="903.8">AD</text><text x="1246.9" y="903.8">0%</text>
<text x="1291.4" y="903.8">LP (PM2, PS2, PS3m,</text><text x="1291.4" y="915.25">PP5)</text>
<text x="1394.6" y="903.8">Likely</text><text x="1442.9" y="903.8">Yes</text>
<!-- R9 -->
<text x="797.3" y="926.7">Vora_9</text>
<text x="875.9" y="926.7">c.7129+1G&gt;C (p.?)</text><text x="875.9" y="949.6">c.307C&gt;T (p.Arg103*)</text>
<text x="1066.1" y="926.7">Compound Het</text>
<text x="1137.1" y="926.7">LOF</text><text x="1137.1" y="949.6">LOF</text><text x="1193.4" y="926.7">AR</text>
<text x="1246.9" y="926.7">0%</text><text x="1246.9" y="949.6">0%</text>
<text x="1291.4" y="926.7">P (PVS1s, PM2, PM3)</text><text x="1291.4" y="949.6">P (PVS1, PM2)</text>
<text x="1394.6" y="926.7">Likely</text><text x="1442.9" y="926.7">No (up)</text>
<!-- R10 -->
<text x="797.3" y="961.1">Wagner</text>
<text x="875.9" y="961.1">c.4373_4380delTGCTGAGG</text><text x="875.9" y="972.55">(p.Val1458Alafs*64)</text>
<text x="1066.1" y="961.1">Hmz</text><text x="1137.1" y="961.1">LOF</text><text x="1193.4" y="961.1">AR</text><text x="1246.9" y="961.1">0%</text><text x="1291.4" y="961.1">P (PVS1, PM2)</text><text x="1394.6" y="961.1">Likely</text><text x="1442.9" y="961.1">Yes</text>
<!-- R11 -->
<text x="797.3" y="984">Yates_1</text>
<text x="875.9" y="984">c.2035G&gt;T (p.Glu679*)</text><text x="875.9" y="1006.9">c.4487C&gt;T (p.Ala1496Val)</text>
<text x="1066.1" y="984">Hmz</text><text x="1066.1" y="1006.9">Hmz</text>
<text x="1137.1" y="984">LOF</text><text x="1137.1" y="1006.9">n/a</text><text x="1193.4" y="984">AR</text>
<text x="1246.9" y="984">0%</text><text x="1246.9" y="1006.9">0.01%</text>
<text x="1291.4" y="984">P (PVS1, PM2)</text><text x="1291.4" y="1006.9">LB (BP4, BP5)</text>
<text x="1394.6" y="984">Likely</text><text x="1442.9" y="984">Yes</text>
<!-- R12 -->
<text x="797.3" y="1018.4">Zhou_7</text>
<text x="875.9" y="1018.4">c.5366_5367dupAG (p.Leu1790Serfs*132)</text><text x="875.9" y="1041.3">c.7049+1G&gt;C (p.?)</text>
<text x="1066.1" y="1018.4">Het (pat)</text><text x="1066.1" y="1041.3">Het (mat)</text>
<text x="1137.1" y="1018.4">LOF</text><text x="1137.1" y="1041.3">LOF</text><text x="1193.4" y="1018.4">AR</text>
<text x="1246.9" y="1018.4">0%</text><text x="1246.9" y="1041.3">0%</text>
<text x="1291.4" y="1018.4">P (PVS1, PM2)</text><text x="1291.4" y="1041.3">P (PVS1, PM2)</text>
<text x="1394.6" y="1018.4">Likely</text><text x="1442.9" y="1018.4">Yes</text>
<!-- R13 -->
<text x="797.3" y="1052.8">Al-Kouatly</text><text x="797.3" y="1064.25">_18</text>
<text x="875.9" y="1052.8">c.4556A&gt;C (p.Gln1519Pro)</text><text x="875.9" y="1075.7">c.5728G&gt;A (p.Glu1910Lys)</text><text x="875.9" y="1098.6">c.6328C&gt;T (p.Arg2110Trp)</text>
<text x="1066.1" y="1052.8">Het (pat)</text><text x="1066.1" y="1075.7">Het (pat)</text><text x="1066.1" y="1098.6">Het (mat)</text>
<text x="1137.1" y="1052.8">n/a</text><text x="1137.1" y="1075.7">n/a</text><text x="1137.1" y="1098.6">GOF</text>
<text x="1193.4" y="1052.8">AD</text>
<text x="1246.9" y="1052.8">0.07%</text><text x="1246.9" y="1075.7">0.4%</text><text x="1246.9" y="1098.6">0.002%</text>
<text x="1291.4" y="1052.8">VUS (BP4)</text><text x="1291.4" y="1075.7">LB (BP4, BP6, BS1p)</text><text x="1291.4" y="1087.15">VUS (PM2, PP3, PS3p,</text><text x="1291.4" y="1098.6">PS4p)</text>
<text x="1394.6" y="1052.8">Possibly</text><text x="1442.9" y="1052.8">Yes</text>
<!-- R14 -->
<text x="797.3" y="1114.6">Correa</text><text x="797.3" y="1126.05">_NIH47</text>
<text x="875.9" y="1114.6">c.4914C&gt;G (p.Tyr1638*)</text><text x="875.9" y="1137.5">c.122_124delTGC (p.Leu41del)</text>
<text x="1066.1" y="1114.6">Het (pat)</text><text x="1066.1" y="1137.5">Het (mat)</text>
<text x="1137.1" y="1114.6">LOF</text><text x="1137.1" y="1137.5">Unkwn</text><text x="1193.4" y="1114.6">AD/AR</text>
<text x="1246.9" y="1114.6">0%</text><text x="1246.9" y="1137.5">0.01%</text>
<text x="1291.4" y="1114.6">P (PVS1, PM2)</text><text x="1291.4" y="1137.5">VUS (PM2, PM3, BP3)</text>
<text x="1394.6" y="1114.6">Possibly</text><text x="1442.9" y="1114.6">No (down)</text>
<!-- R15 -->
<text x="797.3" y="1155.7">Dempsey_C15</text><text x="875.9" y="1155.7">c.3196+1G&gt;C (p.?)</text><text x="1066.1" y="1155.7">Het (NOS)</text><text x="1137.1" y="1155.7">LOF</text><text x="1193.4" y="1155.7">AD/AR</text><text x="1246.9" y="1155.7">0%</text><text x="1291.4" y="1155.7">P (PVS1, PM2)</text><text x="1394.6" y="1155.7">Possibly</text><text x="1442.9" y="1155.7">Yes</text>
<!-- R16 -->
<text x="797.3" y="1170.3">Mone</text><text x="797.3" y="1181.75">_ES41/42</text>
<text x="875.9" y="1170.3">c.6905G&gt;C (p.Arg2302Pro)</text><text x="1066.1" y="1170.3">Hmz</text><text x="1137.1" y="1170.3">Unkwn</text><text x="1193.4" y="1170.3">AD/AR</text><text x="1246.9" y="1170.3">0%</text><text x="1291.4" y="1170.3">VUS (PM2, PP3)</text><text x="1394.6" y="1170.3">Possibly</text><text x="1442.9" y="1170.3">No (down)</text>
<!-- R17 -->
<text x="797.3" y="1193.3">Sparks</text><text x="797.3" y="1204.75">_H072</text>
<text x="875.9" y="1193.3">c.5716_5738del (p.Pro1906Lysfs*55)</text><text x="875.9" y="1216.2">c.6809T&gt;C (p.Ile2270Thr)</text>
<text x="1066.1" y="1193.3">Compound Het</text>
<text x="1137.1" y="1193.3">LOF</text><text x="1137.1" y="1216.2">Unkwn</text><text x="1193.4" y="1193.3">AD/AR</text>
<text x="1246.9" y="1193.3">0%</text><text x="1246.9" y="1216.2">0.002%</text>
<text x="1291.4" y="1193.3">P (PVS1, PM2)</text><text x="1291.4" y="1216.2">VUS (PM2, PM3, PP3)</text>
<text x="1394.6" y="1193.3">Possibly</text><text x="1442.9" y="1193.3">No (down)</text>
<!-- R18 -->
<text x="797.3" y="1234.4">Zhou_13</text>
<text x="875.9" y="1234.4">c.4640G&gt;A (p.Arg1547His)</text><text x="875.9" y="1257.3">c.6680C&gt;T (p.Ala2227Val)</text>
<text x="1066.1" y="1234.4">Het (pat)</text><text x="1066.1" y="1257.3">Het (mat)</text>
<text x="1137.1" y="1234.4">Unkwn</text><text x="1137.1" y="1257.3">Unkwn</text><text x="1193.4" y="1234.4">AD/AR</text>
<text x="1246.9" y="1234.4">0.003%</text><text x="1246.9" y="1257.3">0.02%</text>
<text x="1291.4" y="1234.4">VUS (PM2, PP3)</text><text x="1291.4" y="1257.3">VUS (PM2, BP4)</text>
<text x="1394.6" y="1234.4">Possibly</text><text x="1442.9" y="1234.4">Yes</text>
<!-- R19 -->
<text x="797.3" y="1269.8">Zhou_14</text><text x="875.9" y="1269.8">c.1796T&gt;G (p.Val599Gly)</text><text x="1066.1" y="1269.8">Het (mat)</text><text x="1137.1" y="1269.8">Unkwn</text><text x="1193.4" y="1269.8">AD</text><text x="1246.9" y="1269.8">0%</text><text x="1291.4" y="1269.8">VUS (PM2, BP4)</text><text x="1394.6" y="1269.8">Possibly</text><text x="1442.9" y="1269.8">Yes</text>
<!-- R20 -->
<text x="797.3" y="1292.2">Al-Kouatly</text><text x="797.3" y="1303.65">_1</text>
<text x="875.9" y="1292.2">c.1495G&gt;A (p.Val499Ile)</text><text x="875.9" y="1315.1">c.6905G&gt;A (p.Arg2302His)</text>
<text x="1066.1" y="1292.2">Het (pat)</text><text x="1066.1" y="1315.1">Het (mat)</text>
<text x="1137.1" y="1292.2">n/a</text><text x="1137.1" y="1315.1">Unkwn</text><text x="1193.4" y="1292.2">n/a</text>
<text x="1246.9" y="1292.2">0.15%</text><text x="1246.9" y="1315.1">0.09%</text>
<text x="1291.4" y="1292.2">LB (BP4, BP6, BS1p)</text><text x="1291.4" y="1315.1">VUS (BP4, PS3p)</text>
<text x="1394.6" y="1292.2">Unlikely</text><text x="1442.9" y="1292.2">No (down)</text>
<!-- R21 -->
<text x="797.3" y="1326.7">Guo_12</text>
<text x="875.9" y="1326.7">c.3340C&gt;G (p.Gln1114Glu)</text><text x="875.9" y="1349.6">c.7184C&gt;T (p.Ala2395Val)</text>
<text x="1066.1" y="1326.7">Het (mat)</text><text x="1066.1" y="1349.6">Het (pat)</text>
<text x="1137.1" y="1326.7">n/a</text><text x="1137.1" y="1349.6">n/a</text><text x="1193.4" y="1326.7">n/a</text>
<text x="1246.9" y="1326.7">0.6%</text><text x="1246.9" y="1349.6">0.09%</text>
<text x="1291.4" y="1326.7">LB (BS1p, BP4)</text><text x="1291.4" y="1349.6">VUS (BP4)</text>
<text x="1394.6" y="1326.7">Unlikely</text><text x="1442.9" y="1326.7">No (down)</text>
<!-- R22 -->
<text x="797.3" y="1360.9">Guo_16</text>
<text x="875.9" y="1360.9">c.4519G&gt;C (p.Val1507Leu)</text><text x="875.9" y="1383.8">c.4885G&gt;A (p.Gly1629Arg)</text>
<text x="1066.1" y="1360.9">Het (pat)</text><text x="1066.1" y="1383.8">Het (mat)</text>
<text x="1137.1" y="1360.9">n/a</text><text x="1137.1" y="1383.8">n/a</text><text x="1193.4" y="1360.9">n/a</text>
<text x="1246.9" y="1360.9">0%</text><text x="1246.9" y="1383.8">0.13%</text>
<text x="1291.4" y="1360.9">VUS (PM2, BP4)</text><text x="1291.4" y="1383.8">LB (BS1p, BP4)</text>
<text x="1394.6" y="1360.9">Unlikely</text><text x="1442.9" y="1360.9">No (down)</text>
</g>

<!-- Table caption -->
<g class="tcap">
<text x="798" y="1396.7" textLength="691.7" lengthAdjust="spacingAndGlyphs"><tspan class="b">Table 1.</tspan> Each NIHF pregnancy is identified in the “Pregnancy” column by the reporting author’s last name and, when applicable, the case identifier used in the</text>
<text x="798" y="1408.5" textLength="702.4" lengthAdjust="spacingAndGlyphs">original publication. The “Classification” column refers to our variant reclassification by the ACMG/AMP guidelines, and abbreviations in the Classification column</text>
<text x="798" y="1420.3" textLength="699" lengthAdjust="spacingAndGlyphs">originate from those guidelines (Richards et al. 2015). Classification evidence categories are reported in uppercase letters; when a lowercase letter is appended</text>
<text x="798" y="1432.1" textLength="634.5" lengthAdjust="spacingAndGlyphs">to the end of an evidence category, this indicates the strength of the evidence has been modified to the following level: “s”=strong, “m”=moderate,</text>
<text x="798" y="1443.9" textLength="667.5" lengthAdjust="spacingAndGlyphs">“p”=supporting. Het=heterozygous, Hmz=homozygous, pat=paternal, mat=maternal, NOS=not otherwise specified, Unkwn=unknown, Max AF=maximum</text>
<text x="798" y="1455.8" textLength="654" lengthAdjust="spacingAndGlyphs">population allele frequency reported in gnomAD. “Concordance” refers to our Diagnosis category compared to that reported in the original publication.</text>
</g>

<!-- References -->
<g class="ref">
<text x="798" y="1475.2" class="b">REFERENCES</text>
<text x="798" y="1483.6">Al-Kouatly HB et al. (2021) Genet Med;23(7):1325-1333. PMID: 33686258.</text>
<text x="798" y="1491.8">Correa ARE et al. (2021) Prenat Diagn;41(11):1414-1424. PMID: 34302381.</text>
<text x="798" y="1500">Dempsey E et al. (2021) BJOG;128(6):1012-1019. PMID: 32981126.</text>
<text x="798" y="1508.1">Guo W et al. (2020) Hum Mutat;41(2):432-448. PMID: 31680349.</text>
<text x="798" y="1516.3">Jankovsky N et al. (2021) Am J Hematol;96(8):1017-1026. PMID: 33848364.</text>
<text x="798" y="1524.5">Jiang Y et al. (2021) Trends Biochem Sci;46(6):472-488. PMID: 33610426.</text>
<text x="1040.7" y="1475.2"><tspan class="b">REFERENCES</tspan> (continued)</text>
<text x="1040.7" y="1483.6">Marangoni M et al. (2022) Genet Med;24(2):344-363. PMID: 34906519.</text>
<text x="1040.7" y="1491.8">Mone F et al. (2022) Ultrasound Obstet Gynecol;59(6):723-730.</text>
<text x="1076.1" y="1500">PMID: 34940998.</text>
<text x="1040.7" y="1508.1">Qi Q et al. (2020) Genes (Basel);11(12):1397. PMID: 33255631.</text>
<text x="1040.7" y="1516.3">Richards S et al. (2015) Genet Med;17(5):405-24. PMID: 25741868.</text>
<text x="1040.7" y="1524.5">Saotome K et al. (2018) Nature;554(7693):481-486. PMID: 29261642.</text>
<text x="1268.9" y="1475.2"><tspan class="b">REFERENCES</tspan> (continued)</text>
<text x="1268.9" y="1483.6">Shamseldin HE et al. (2018) Genet Med;20(4):420-427. PMID: 28749478.</text>
<text x="1268.9" y="1491.8">Sparks TN et al. (2020) N Engl J Med;383(18):1746-1756. PMID: 33027564.</text>
<text x="1268.9" y="1500">Vora NL et al. (2020) Genet Med;22(5):954-961. PMID: 31974414.</text>
<text x="1268.9" y="1508.1">Wagner T et al. (2022) Prenat Diagn;42(7):881-889. PMID: 34132406.</text>
<text x="1268.9" y="1516.3">Yates CL et al. (2017) Genet Med;19(10):1171-1178. PMID: 28425981.</text>
<text x="1268.9" y="1524.5">Zhou X et al. (2021) Front Genet;12:616392. PMID: 33897756.</text>
</g>
</svg>
</body></html>
